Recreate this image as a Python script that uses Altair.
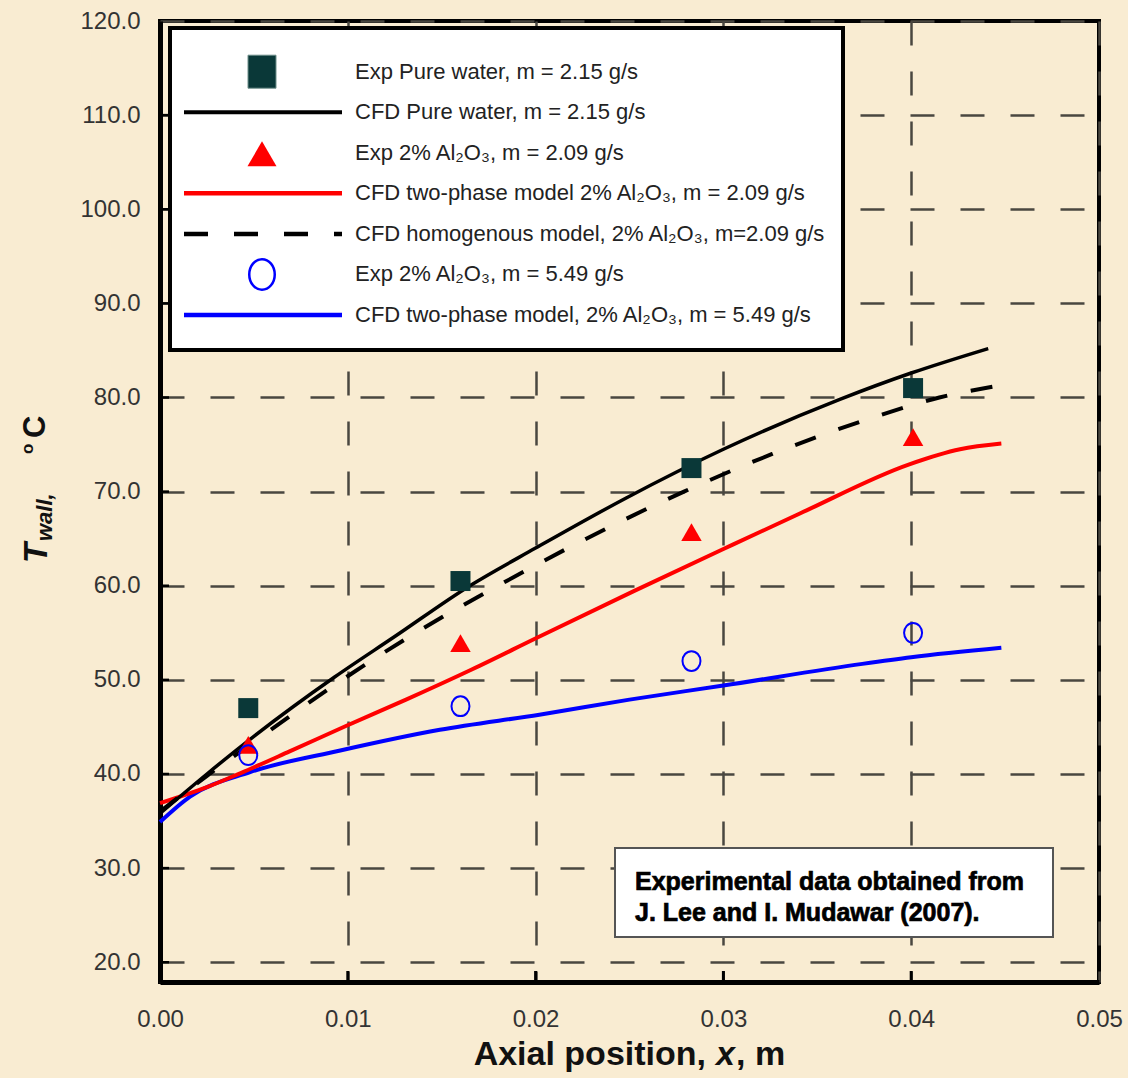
import altair as alt
import pandas as pd

# ---------------- data ----------------
exp_x = [0.0047, 0.0160, 0.0283, 0.0401]
exp_water = [47.0, 60.5, 72.5, 81.0]
exp_al_209 = [43.1, 53.9, 65.7, 75.8]
exp_al_549 = [42.0, 47.2, 52.0, 55.0]

cfd_water_x = [0.0, 0.0025, 0.005, 0.0093, 0.0125, 0.0165, 0.020, 0.0248, 0.030, 0.0362, 0.040, 0.0441]
cfd_water_y = [35.8, 40.0, 44.0, 50.3, 54.6, 60.0, 64.0, 69.3, 74.5, 79.8, 82.6, 85.2]

cfd_homog_x = [0.0, 0.0025, 0.005, 0.0097, 0.0137, 0.018, 0.0227, 0.0279, 0.0326, 0.0377, 0.0415, 0.0445]
cfd_homog_y = [36.0, 39.8, 43.4, 50.0, 55.1, 60.0, 65.0, 70.0, 74.0, 77.7, 80.0, 81.2]

cfd_two_209_x = [0.0, 0.0025, 0.0043, 0.0069, 0.0099, 0.0131, 0.0166, 0.0201, 0.0252, 0.030, 0.0341, 0.0399, 0.0426, 0.0448]
cfd_two_209_y = [36.9, 38.6, 40.1, 42.4, 45.1, 47.9, 51.1, 54.5, 59.4, 63.9, 67.7, 72.9, 74.5, 75.1]

cfd_two_549_x = [0.0, 0.0016, 0.0048, 0.0096, 0.0149, 0.0202, 0.025, 0.030, 0.0374, 0.040, 0.0448]
cfd_two_549_y = [34.9, 37.6, 40.2, 42.5, 44.7, 46.3, 47.9, 49.4, 51.7, 52.4, 53.4]

x_ticks = [0.0, 0.01, 0.02, 0.03, 0.04, 0.05]
y_ticks = [20, 30, 40, 50, 60, 70, 80, 90, 100, 110, 120]

legend_labels = [
    "Exp Pure water, m = 2.15 g/s",
    "CFD Pure water, m = 2.15 g/s",
    "Exp 2% Al\u2082O\u2083,  m = 2.09 g/s",
    "CFD two-phase model 2% Al\u2082O\u2083, m = 2.09 g/s",
    "CFD homogenous model, 2% Al\u2082O\u2083, m=2.09 g/s",
    "Exp 2% Al\u2082O\u2083, m = 5.49 g/s",
    "CFD two-phase model, 2% Al\u2082O\u2083, m = 5.49 g/s",
]
note_lines = ["Experimental data obtained from", "J. Lee and I. Mudawar (2007)."]

# ---------------- styling ----------------
BG = "#F9ECD2"
FONT = "Liberation Sans"
W, H = 939, 961

xs = alt.Scale(domain=[0.0, 0.05], nice=False, zero=False)
ys = alt.Scale(domain=[17.9, 120.0], nice=False, zero=False)
xa = alt.Axis(values=x_ticks, format=".2f", title=None, grid=True, ticks=False, tickSize=0,
              gridDash=[24, 26], gridColor="#4a4740", gridWidth=2.5,
              domainColor="black", domainWidth=5, labelFont=FONT, labelFontSize=24,
              labelColor="#333333", labelPadding=25, labelFlush=False)
ya = alt.Axis(values=y_ticks, format=".1f", title=None, grid=True, ticks=False, tickSize=0,
              gridDash=[24, 26], gridColor="#4a4740", gridWidth=2.5,
              domainColor="black", domainWidth=5, labelFont=FONT, labelFontSize=24,
              labelColor="#333333", labelPadding=20, labelFlush=False)


def X(f="x"):
    return alt.X(f + ":Q", scale=xs, axis=xa)


def Y(f="y"):
    return alt.Y(f + ":Q", scale=ys, axis=ya)


def line_layer(xv, yv, color, dash=None, width=4):
    df = pd.DataFrame({"x": xv, "y": yv})
    kw = dict(color=color, strokeWidth=width, interpolate="monotone")
    if dash:
        kw["strokeDash"] = dash
    return alt.Chart(df).mark_line(**kw).encode(x=X(), y=Y())


ellipse = "M0,-1.1A1,1.1,0,1,1,0,1.1A1,1.1,0,1,1,0,-1.1Z"
ellipse_leg = "M0,-1.2A1,1.2,0,1,1,0,1.2A1,1.2,0,1,1,0,-1.2Z"

layers = []
# CFD lines
layers.append(line_layer(cfd_two_549_x, cfd_two_549_y, "#0000FF"))
layers.append(line_layer(cfd_two_209_x, cfd_two_209_y, "#FF0000"))
layers.append(line_layer(cfd_homog_x, cfd_homog_y, "black", dash=[22, 24]))
layers.append(line_layer(cfd_water_x, cfd_water_y, "black", width=3.5))

# experimental points
layers.append(alt.Chart(pd.DataFrame({"x": exp_x, "y": exp_water})).mark_point(
    shape="square", filled=True, size=400, color="#0A3838", opacity=1).encode(x=X(), y=Y()))
layers.append(alt.Chart(pd.DataFrame({"x": exp_x, "y": exp_al_209})).mark_point(
    shape="triangle-up", filled=True, size=420, color="#FF0000", opacity=1).encode(x=X(), y=Y()))
layers.append(alt.Chart(pd.DataFrame({"x": exp_x, "y": exp_al_549})).mark_point(
    shape=ellipse, filled=False, size=324, color="#0000FF", strokeWidth=2, opacity=1).encode(x=X(), y=Y()))

# inward tick marks
layers.append(alt.Chart(pd.DataFrame({"y": y_ticks[:-1]})).mark_rule(color="black", strokeWidth=2.5).encode(
    y=Y(), x=alt.value(0), x2=alt.value(9)))
layers.append(alt.Chart(pd.DataFrame({"x": x_ticks[1:-1]})).mark_rule(color="black", strokeWidth=3).encode(
    x=X(), y=alt.value(H), y2=alt.value(H - 11)))

# ---------------- legend box ----------------
one = pd.DataFrame({"k": [0]})
layers.append(alt.Chart(one).mark_rect(fill="white", stroke="black", strokeWidth=4).encode(
    x=alt.value(10), x2=alt.value(683), y=alt.value(7), y2=alt.value(329)))

row0, step = 50.7, 40.55
leg_df = pd.DataFrame({"label": legend_labels})
leg_df["py"] = [row0 + step * i for i in range(len(legend_labels))]
layers.append(alt.Chart(leg_df).mark_text(align="left", baseline="middle", font=FONT, fontSize=22,
                                          color="#222222").encode(
    x=alt.value(195), y=alt.Y("py:Q", scale=None), text="label:N"))

sym_x = 102
rows = [row0 + step * i for i in range(7)]
# square
layers.append(alt.Chart(one).mark_rect(fill="#0A3838", stroke="#6f8f8a", strokeWidth=1).encode(
    x=alt.value(sym_x - 14), x2=alt.value(sym_x + 14), y=alt.value(rows[0] - 16.5), y2=alt.value(rows[0] + 16.5)))
# black line
layers.append(alt.Chart(one).mark_rule(color="black", strokeWidth=4).encode(
    x=alt.value(24), x2=alt.value(182), y=alt.value(rows[1])))
# red triangle
layers.append(alt.Chart(one).mark_point(shape="triangle-up", filled=True, size=841, color="#FF0000",
                                        opacity=1).encode(x=alt.value(sym_x), y=alt.value(rows[2] + 1)))
# red line
layers.append(alt.Chart(one).mark_rule(color="#FF0000", strokeWidth=4.5).encode(
    x=alt.value(24), x2=alt.value(182), y=alt.value(rows[3])))
# dashed line
layers.append(alt.Chart(one).mark_rule(color="black", strokeWidth=4.5, strokeDash=[24, 26]).encode(
    x=alt.value(24), x2=alt.value(182), y=alt.value(rows[4])))
# blue circle
layers.append(alt.Chart(one).mark_point(shape=ellipse_leg, filled=False, size=650, color="#0000FF",
                                        strokeWidth=2.5, opacity=1).encode(x=alt.value(sym_x), y=alt.value(rows[5])))
# blue line
layers.append(alt.Chart(one).mark_rule(color="#0000FF", strokeWidth=4.5).encode(
    x=alt.value(24), x2=alt.value(182), y=alt.value(rows[6])))

# ---------------- note box ----------------
layers.append(alt.Chart(one).mark_rect(fill="white", stroke="#555555", strokeWidth=2).encode(
    x=alt.value(455), x2=alt.value(893), y=alt.value(827), y2=alt.value(916)))
note_df = pd.DataFrame({"t": note_lines, "py": [861, 892]})
layers.append(alt.Chart(note_df).mark_text(align="left", baseline="middle", font=FONT, fontSize=25,
                                           fontWeight="bold", color="black", stroke="black",
                                           strokeWidth=0.7).encode(
    x=alt.value(475), y=alt.Y("py:Q", scale=None), text="t:N"))

# ---------------- axis titles (rich text) ----------------
def txt(s, px, py, size, italic=False, align="left", angle=0, weight="bold", color="#111111"):
    kw = dict(align=align, baseline="alphabetic", font=FONT, fontSize=size, fontWeight=weight,
              color=color, text=s)
    if italic:
        kw["fontStyle"] = "italic"
    if angle:
        kw["angle"] = angle
    return alt.Chart(one).mark_text(**kw).encode(x=alt.value(px), y=alt.value(py))


# x title: "Axial position, x, m"
layers.append(txt("Axial position,", 546, 1044, 34, align="right"))
layers.append(txt("x", 556, 1044, 34, italic=True))
layers.append(txt(", m", 576, 1044, 34))

# y title: "T_wall, °C"
layers.append(txt("T", -113, 542, 33, italic=True, angle=270))
layers.append(txt("wall,", -108, 520, 22, italic=True, angle=270))
layers.append(txt("o", -127, 433, 17, angle=270))
layers.append(txt("C", -115, 417, 31, angle=270))

chart = alt.layer(*layers).properties(
    width=W, height=H,
    padding={"left": 160, "top": 21, "right": 29, "bottom": 96},
    autosize=alt.AutoSizeParams(type="none"),
    background=BG,
).configure_view(stroke="black", strokeWidth=4, fill=BG)

chart.save("out.html", embed_options={"renderer": "svg", "actions": False})
